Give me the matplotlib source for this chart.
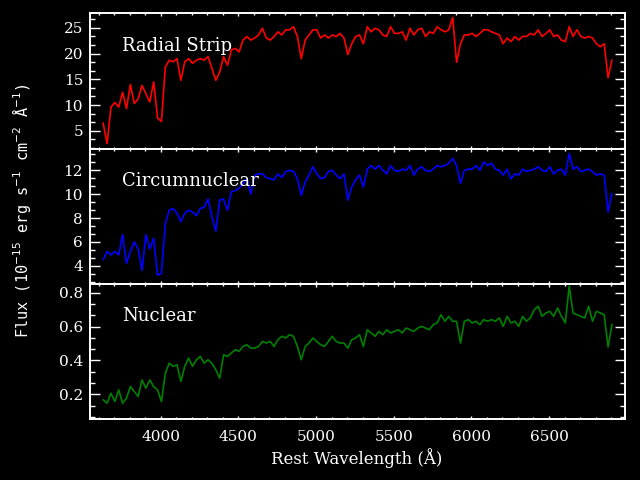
import numpy as np
import matplotlib
matplotlib.use("Agg")
import matplotlib.pyplot as plt
from matplotlib.ticker import MultipleLocator, FormatStrFormatter

# rest wavelength grid (Angstrom), 25 A sampling
wave = np.arange(3630, 6906, 25)

radial_strip = [
    6.5, 2.5, 9.6, 10.5, 9.6, 12.5, 9.3, 14.0, 10.3, 11.2,
    13.8, 12.2, 10.6, 14.5, 7.5, 6.8, 17.4, 18.7, 18.4, 19.0,
    14.8, 18.4, 19.0, 18.1, 18.7, 19.0, 18.7, 19.4, 17.1, 14.8,
    16.4, 19.4, 17.7, 20.7, 21.0, 20.3, 22.6, 23.3, 22.6, 23.0,
    23.6, 24.9, 23.0, 22.6, 23.3, 24.2, 23.6, 24.6, 24.6, 25.2,
    23.3, 19.0, 22.6, 23.6, 24.6, 24.6, 23.0, 23.6, 23.0, 23.6,
    23.3, 23.9, 23.0, 19.8, 21.9, 23.3, 23.6, 21.9, 25.2, 24.2,
    24.9, 24.6, 23.6, 23.3, 25.2, 23.9, 23.9, 24.2, 22.6, 24.9,
    23.6, 24.6, 24.9, 23.3, 24.2, 23.9, 25.2, 24.6, 24.2, 24.6,
    27.0, 18.3, 21.9, 23.6, 23.6, 23.9, 23.3, 23.9, 24.6, 24.6,
    24.2, 23.9, 23.6, 21.9, 23.0, 22.3, 23.3, 22.6, 23.3, 23.3,
    23.9, 23.6, 24.6, 23.3, 23.9, 24.6, 23.3, 23.6, 22.6, 22.3,
    25.2, 23.3, 24.6, 23.3, 23.0, 23.3, 23.0, 21.9, 21.3, 21.9,
    15.3, 18.7,
]

circumnuclear = [
    4.5, 5.2, 4.9, 5.2, 4.9, 6.6, 4.2, 5.2, 6.0, 5.4,
    3.6, 6.6, 5.4, 6.3, 3.2, 3.35, 7.5, 8.65, 8.8, 8.4,
    7.7, 8.4, 8.65, 8.5, 8.2, 8.8, 8.9, 9.6, 8.1, 6.9,
    9.5, 9.6, 8.65, 10.2, 10.3, 10.5, 10.9, 11.3, 10.0, 11.6,
    11.7, 11.7, 11.4, 11.3, 11.2, 11.7, 11.4, 11.9, 12.0, 11.9,
    11.3, 9.9, 11.0, 11.6, 12.3, 11.7, 11.3, 11.4, 11.9, 12.0,
    11.6, 11.3, 11.7, 9.5, 10.6, 11.2, 11.6, 10.6, 12.1, 12.4,
    12.1, 12.4, 12.0, 11.7, 12.4, 12.0, 11.9, 12.1, 12.0, 12.4,
    11.6, 12.1, 12.3, 12.0, 11.9, 12.1, 12.4, 12.3, 12.4, 12.6,
    13.0, 12.4, 10.9, 12.0, 12.1, 12.1, 12.4, 12.0, 12.7, 12.4,
    12.6, 12.1, 12.0, 11.6, 12.1, 11.3, 11.7, 11.6, 12.1, 11.9,
    12.0, 12.1, 12.3, 12.0, 11.9, 12.3, 11.7, 12.0, 12.1, 11.6,
    13.4, 12.1, 12.3, 11.9, 12.0, 12.1, 11.9, 11.6, 11.7, 11.6,
    8.5, 10.05,
]

nuclear = [
    0.167, 0.147, 0.206, 0.157, 0.226, 0.147, 0.177, 0.246, 0.216, 0.187,
    0.285, 0.236, 0.285, 0.246, 0.226, 0.157, 0.325, 0.384, 0.365, 0.375,
    0.276, 0.365, 0.414, 0.365, 0.404, 0.424, 0.384, 0.404, 0.384, 0.345,
    0.295, 0.434, 0.424, 0.444, 0.464, 0.454, 0.483, 0.493, 0.473, 0.473,
    0.483, 0.513, 0.503, 0.513, 0.483, 0.523, 0.543, 0.533, 0.553, 0.543,
    0.483, 0.404, 0.483, 0.503, 0.533, 0.513, 0.493, 0.483, 0.513, 0.543,
    0.513, 0.503, 0.503, 0.473, 0.523, 0.533, 0.553, 0.483, 0.582, 0.563,
    0.543, 0.572, 0.553, 0.582, 0.563, 0.572, 0.582, 0.563, 0.592, 0.582,
    0.572, 0.592, 0.602, 0.592, 0.582, 0.612, 0.622, 0.671, 0.632, 0.661,
    0.632, 0.632, 0.503, 0.632, 0.642, 0.622, 0.632, 0.612, 0.642, 0.632,
    0.642, 0.632, 0.652, 0.602, 0.661, 0.622, 0.632, 0.602, 0.661, 0.632,
    0.652, 0.701, 0.721, 0.661, 0.681, 0.691, 0.661, 0.711, 0.661, 0.622,
    0.84, 0.681, 0.671, 0.661, 0.652, 0.721, 0.632, 0.691, 0.681, 0.671,
    0.48, 0.612,
]

panels = [
    ("Radial Strip", radial_strip, "#ff0000", (1.55, 27.8), 5, "%d"),
    ("Circumnuclear", circumnuclear, "#0000ff", (2.47, 13.82), 2, "%d"),
    ("Nuclear", nuclear, "#008000", (0.052, 0.853), 0.2, "%.1f"),
]

fig = plt.figure(figsize=(6.4, 4.8), dpi=100, facecolor="black")
gs = fig.add_gridspec(3, 1, left=0.1406, right=0.9758, top=0.9723,
                      bottom=0.1265, hspace=0)
serif = "DejaVu Serif"

for i, (name, flux, col, ylim, step, fmt) in enumerate(panels):
    ax = fig.add_subplot(gs[i])
    ax.set_facecolor("black")
    ax.plot(wave, flux, color=col, lw=1.2)
    ax.set_xlim(3545, 6986)
    ax.set_ylim(*ylim)

    ax.xaxis.set_major_locator(MultipleLocator(500))
    ax.xaxis.set_minor_locator(MultipleLocator(100))
    ax.yaxis.set_major_locator(MultipleLocator(step))
    ax.yaxis.set_minor_locator(MultipleLocator(step / 3))
    ax.yaxis.set_major_formatter(FormatStrFormatter(fmt))

    for s in ax.spines.values():
        s.set_color("white")
        s.set_linewidth(1.4)
    ax.tick_params(which="both", direction="in", colors="white",
                   top=True, right=True, width=1.0)
    ax.tick_params(axis="y", which="major", length=7.5, pad=5)
    ax.tick_params(axis="y", which="minor", length=3.3)
    ax.tick_params(axis="x", which="major", length=2.4, pad=8)
    ax.tick_params(axis="x", which="minor", length=1.3)
    for lab in ax.get_yticklabels() + ax.get_xticklabels():
        lab.set_fontfamily(serif)
        lab.set_fontsize(11)
    if i < 2:
        ax.tick_params(axis="x", labelbottom=False)

    ax.text(0.06, 0.76, name, transform=ax.transAxes, color="white",
            fontsize=13, family=serif, va="center", ha="left")

fig.text(0.558, 0.046, "Rest Wavelength (Å)", color="white", fontsize=12,
         family=serif, ha="center", va="center")
fig.text(0.034, 0.562, r"Flux (10$^{-15}$ erg s$^{-1}$ cm$^{-2}$ Å$^{-1}$)",
         color="white", fontsize=11, family="DejaVu Sans Mono",
         rotation=90, ha="center", va="center")

fig.savefig("out.png", dpi=100, facecolor="black")
